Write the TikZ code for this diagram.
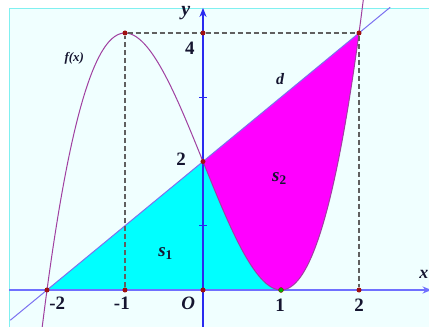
\documentclass[tikz,border=0pt]{standalone}
\usepackage{fontspec}
\setmainfont{Liberation Serif}
\usetikzlibrary{arrows.meta}
\definecolor{bgc}{HTML}{F0FFFF}
\definecolor{framec}{HTML}{80F0F0}
\definecolor{curvec}{HTML}{A040A0}
\definecolor{linec}{HTML}{7B70F0}
\definecolor{xaxc}{HTML}{7070FF}
\definecolor{yaxc}{HTML}{2A2AF0}
\definecolor{dotc}{HTML}{A01010}
\definecolor{dashc}{HTML}{606060}
\definecolor{cyanf}{HTML}{00FFFF}
\definecolor{magf}{HTML}{FF00FF}
\definecolor{txtc}{HTML}{151530}
\tikzset{
  dot/.style={circle,fill=dotc,inner sep=0pt,minimum size=5bp},
  gdot/.style={circle,fill=green!70!black,draw=dotc,line width=0.4bp,inner sep=0pt,minimum size=5bp},
  dashln/.style={draw=dashc,line width=1.3bp,dash pattern=on 5bp off 3bp},
  num/.style={font=\fontsize{19}{19}\selectfont\bfseries,inner sep=0pt,text=txtc},
  lbl/.style={font=\fontsize{16}{16}\selectfont\bfseries\itshape,inner sep=0pt,text=txtc},
  axtip/.style={-{Stealth[length=9bp,width=7bp]}}
}
\begin{document}
\begin{tikzpicture}[x=78bp,y=64.25bp]
\useasboundingbox (-203bp,-37bp) rectangle (226bp,290bp);
\fill[white] (-203bp,-37bp) rectangle (226bp,290bp);
\fill[bgc] (-2.487,-0.6) rectangle (2.9,4.389);
\draw[framec,line width=1bp] (-2.487,-0.6) -- (-2.487,4.389) -- (2.9,4.389);
% regions
\fill[cyanf] (-2,0) -- (0,2) -- plot[domain=0:1,samples=50,smooth] (\x,{\x*\x*\x-3*\x+2}) -- cycle;
\fill[magf] (0,2) -- (2,4) -- plot[domain=2:0,samples=60,smooth] (\x,{\x*\x*\x-3*\x+2}) -- cycle;
% axes
\coordinate (xs) at (-2.487,0);
\coordinate (xe) at (2.93,0);
\coordinate (ys) at (0,-0.6);
\coordinate (ye) at (0,4.39);
\draw[xaxc,line width=1.2bp,axtip] (xs) -- (xe);
\draw[yaxc,line width=1.2bp,axtip] (ys) -- (ye);
\draw[yaxc,line width=0.8bp] (-0.045,1) -- (0.045,1);
\draw[yaxc,line width=0.8bp] (-0.045,3) -- (0.045,3);
% curve and line
\draw[curvec,line width=1bp] plot[domain=-2.07:2.06,samples=120,smooth] (\x,{\x*\x*\x-3*\x+2});
\draw[linec,line width=1bp] (-2.47,-0.47) -- (2.4,4.4);
% points
\node[dot] (Pm20) at (-2,0) {};
\node[dot] (Pm10) at (-1,0) {};
\node[dot] (P00) at (0,0) {};
\node[gdot] (P10) at (1,0) {};
\node[dot] (P20) at (2,0) {};
\node[dot] (P02) at (0,2) {};
\node[dot] (Pm14) at (-1,4) {};
\node[dot] (P04) at (0,4) {};
\node[dot] (P24) at (2,4) {};
% dashed guides
\draw[dashln] (Pm10) -- (Pm14);
\draw[dashln] (Pm14) -- (P04);
\draw[dashln] (P04) -- (P24);
\draw[dashln] (P24) -- (P20);
% labels
\node[lbl,font=\fontsize{20}{20}\selectfont\bfseries\itshape] (ly) at (-0.22,4.31) {y};
\node[lbl,font=\fontsize{18}{18}\selectfont\bfseries\itshape] (lx) at (2.83,0.25) {x};
\node[num] (l4) at (-0.17,3.77) {4};
\node[num] (l2) at (-0.28,2.03) {2};
\node[num] (lm2) at (-1.87,-0.21) {-2};
\node[num] (lm1) at (-1.04,-0.21) {-1};
\node[num,font=\fontsize{19}{19}\selectfont\bfseries\itshape] (lO) at (-0.19,-0.2) {O};
\node[num] (l1) at (0.99,-0.23) {1};
\node[num] (l2x) at (2.0,-0.23) {2};
\node[lbl,font=\fontsize{13}{13}\selectfont\bfseries\itshape] (lf) at (-1.65,3.6) {f(x)};
\node[lbl,font=\fontsize{16}{16}\selectfont\bfseries\itshape] (ld) at (0.99,3.28) {d};
\node[lbl,font=\fontsize{19}{19}\selectfont\bfseries\itshape] (ls2) at (0.98,1.73) {s$_{\mathbf{2}}$};
\node[lbl,font=\fontsize{19}{19}\selectfont\bfseries\itshape] (ls1) at (-0.48,0.57) {s$_{\mathbf{1}}$};
\end{tikzpicture}
\end{document}
